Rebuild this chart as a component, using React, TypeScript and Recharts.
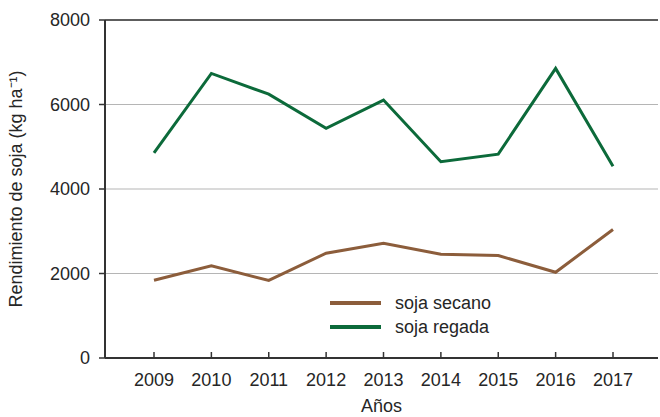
import {
  CartesianGrid,
  Label,
  Line,
  LineChart,
  ReferenceLine,
  XAxis,
  YAxis,
} from "recharts";

const years = ["2009", "2010", "2011", "2012", "2013", "2014", "2015", "2016", "2017"];
const sojaSecano = [1840, 2180, 1835, 2480, 2715, 2455, 2425, 2030, 3040];
const sojaRegada = [4855, 6735, 6245, 5435, 6105, 4645, 4825, 6855, 4540];
const yTicks = [0, 2000, 4000, 6000, 8000];

const seriesInfo = [
  { key: "secano", name: "soja secano", color: "#8c5d3b" },
  { key: "regada", name: "soja regada", color: "#0c6a3a" },
];

const FONT = '"Liberation Sans", Arial, sans-serif';
const TEXT = "#262626";

const data = years.map((y, i) => ({
  year: y,
  secano: sojaSecano[i],
  regada: sojaRegada[i],
}));

function XTick(props: any) {
  const { x, y, payload } = props;
  return (
    <g>
      <line x1={x} x2={x} y1={y} y2={y - 6} stroke="#333" strokeWidth={1.5} />
      <text x={x} y={y + 28} textAnchor="middle" fontSize={18} fill={TEXT} fontFamily={FONT}>
        {payload.value}
      </text>
    </g>
  );
}

function LegendBox() {
  return (
    <div
      style={{
        position: "absolute",
        left: 330,
        top: 291,
        fontFamily: FONT,
        fontSize: 18,
        color: TEXT,
      }}
    >
      {seriesInfo.map((s) => (
        <div key={s.key} style={{ display: "flex", alignItems: "center", height: 24 }}>
          <span style={{ display: "inline-block", width: 51, height: 4, background: s.color, marginRight: 14 }} />
          <span>{s.name}</span>
        </div>
      ))}
    </div>
  );
}

export default function App() {
  return (
    <div style={{ position: "absolute", left: 0, top: 0, width: 660, height: 417, background: "#fff" }}>
      <LineChart width={660} height={417} data={data} margin={{ top: 20, right: 2, bottom: 0, left: 0 }}>
        <CartesianGrid vertical={false} stroke="#b5b5b5" strokeWidth={1} />
        <ReferenceLine y={8000} stroke="#333" strokeWidth={1.5} />
        <XAxis
          dataKey="year"
          padding={{ left: 49, right: 45 }}
          tickSize={0}
          tickMargin={0}
          tick={<XTick />}
          tickLine={false}
          axisLine={{ stroke: "#333", strokeWidth: 2 }}
          height={59}
        >
          <Label value="Años" position="insideBottom" offset={0} dy={-5} fontSize={18} fill={TEXT} fontFamily={FONT} />
        </XAxis>
        <YAxis
          domain={[0, 8000]}
          ticks={yTicks}
          width={105}
          tickSize={6}
          tickMargin={9}
          interval={0}
          tick={{ fontSize: 18, fill: TEXT, fontFamily: FONT }}
          tickLine={{ stroke: "#333", strokeWidth: 1.5 }}
          axisLine={{ stroke: "#333", strokeWidth: 2 }}
        >
          <Label
            value="Rendimiento de soja (kg ha⁻¹)"
            angle={-90}
            position="insideLeft"
            offset={16}
            style={{ textAnchor: "middle" }}
            fontSize={18}
            fill={TEXT}
            fontFamily={FONT}
          />
        </YAxis>
        <Line
          dataKey="secano"
          name="soja secano"
          stroke="#8c5d3b"
          strokeWidth={3}
          dot={false}
          isAnimationActive={false}
        />
        <Line
          dataKey="regada"
          name="soja regada"
          stroke="#0c6a3a"
          strokeWidth={3}
          dot={false}
          isAnimationActive={false}
        />
      </LineChart>
      <LegendBox />
    </div>
  );
}
